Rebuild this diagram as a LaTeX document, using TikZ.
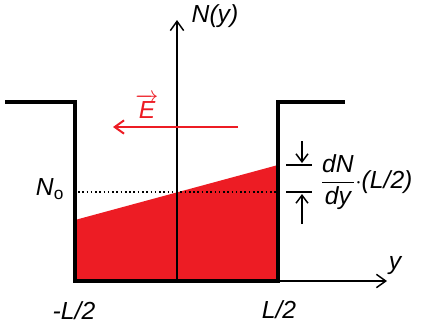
\documentclass[tikz,border=0pt]{standalone}
\usepackage{fontspec}
\setmainfont{Liberation Sans}
\usetikzlibrary{arrows.meta}
\definecolor{wellred}{RGB}{237,28,36}
\tikzset{
  wall/.style={line width=3.2pt, line join=miter},
  axis/.style={line width=1.1pt, -{Straight Barb[length=7pt,width=10pt,line width=1.1pt]}},
  dimarrow/.style={line width=1.1pt, -{Straight Barb[length=6pt,width=9pt,line width=1.1pt]}},
  lbl/.style={font=\fontsize{18.5}{22}\selectfont\itshape, inner sep=1pt}
}
\begin{document}
\begin{tikzpicture}[x=0.75pt, y=-0.75pt]
    \useasboundingbox (0,0) rectangle (422,329);
    % well corners
    \coordinate (lt) at (5,102);
    \coordinate (lc) at (75,102);
    \coordinate (lb) at (75,281);
    \coordinate (rb) at (278,281);
    \coordinate (rc) at (278,102);
    \coordinate (rt) at (345,102);
    % carrier profile
    \coordinate (nl) at (75,220);
    \coordinate (nr) at (278,165);
    \fill[wellred] (nl) -- (nr) -- (rb) -- (lb) -- cycle;
    \draw[wall] (lt) -- (lc) -- (lb) -- (rb) -- (rc) -- (rt);
    % axes
    \coordinate (ybot) at (177,281);
    \coordinate (ytop) at (177,20);
    \coordinate (xend) at (387,281);
    \draw[axis] (ybot) -- (ytop);
    \draw[axis] (rb) -- (xend);
    \node[lbl] (Ny) at (215,16) {N(y)};
    \node[lbl] (ylab) at (395,266) {y};
    % field
    \coordinate (eright) at (238,127);
    \coordinate (eleft) at (113,127);
    \draw[wellred, line width=1.5pt, -{Straight Barb[length=7pt,width=10pt,line width=1.5pt]}] (eright) -- (eleft);
    \node[lbl, wellred] (E) at (147,106) {$\overrightarrow{\textit{E}}$};
    % mean level
    \coordinate (n0l) at (78,192);
    \coordinate (n0r) at (278,192);
    \draw[line width=1.2pt, dotted] (n0l) -- (n0r);
    \node[lbl] (N0) at (50,189) {N\textsubscript{\upshape o}};
    % edges
    \node[lbl] (mL) at (74,311) {-L/2};
    \node[lbl] (pL) at (279,310) {L/2};
    % gradient bracket
    \coordinate (tka) at (286,165);
    \coordinate (tkb) at (312,165);
    \coordinate (tkc) at (286,192);
    \coordinate (tkd) at (312,192);
    \draw[line width=1.1pt] (tka) -- (tkb) (tkc) -- (tkd);
    \coordinate (da) at (302,141);
    \coordinate (db) at (302,163);
    \coordinate (ua) at (302,224);
    \coordinate (ub) at (302,194);
    \draw[dimarrow] (da) -- (db);
    \draw[dimarrow] (ua) -- (ub);
    \node[lbl, anchor=west] (grad) at (319,182)
        {$\displaystyle\frac{\textit{dN}}{\textit{dy}}$$\cdot$(L/2)};
\end{tikzpicture}
\end{document}
